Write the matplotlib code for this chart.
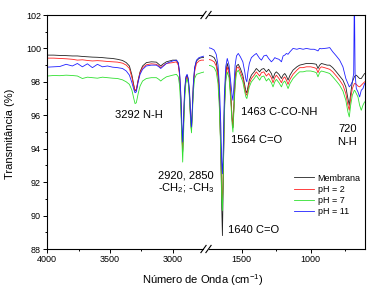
import matplotlib
matplotlib.use("Agg")
import matplotlib.pyplot as plt
from matplotlib.lines import Line2D

plt.rcParams['font.family'] = ['Liberation Sans', 'DejaVu Sans']
plt.rcParams['mathtext.fontset'] = 'custom'
plt.rcParams['mathtext.rm'] = 'Liberation Sans'
plt.rcParams['mathtext.it'] = 'Liberation Sans:italic'

# espectros FTIR, lado izquierdo (4000 - 2745 cm-1)
wn_left = [4000, 3950, 3900, 3850, 3800, 3760, 3720, 3680, 3640, 3600, 3560, 3520, 3480,
           3440, 3400, 3370, 3345, 3325, 3310, 3300, 3290, 3275, 3260, 3240, 3210, 3170,
           3130, 3110, 3095, 3080, 3050, 3000, 2970, 2955, 2945, 2935, 2927, 2920, 2913,
           2905, 2895, 2885, 2875, 2865, 2857, 2850, 2843, 2835, 2825, 2810, 2790, 2770, 2745]
membrana_left = [99.6, 99.6, 99.58, 99.57, 99.55, 99.55, 99.52, 99.5, 99.48, 99.47, 99.45, 99.42, 99.4,
                 99.35, 99.28, 99.15, 98.95, 98.4, 97.8, 97.45, 97.5, 98.1, 98.6, 98.95, 99.15, 99.2,
                 99.18, 99.05, 98.95, 99.05, 99.2, 99.3, 99.3, 99.1, 98.5, 97.0, 95.0, 93.8, 95.5,
                 97.3, 98.2, 98.4, 98.1, 97.2, 95.8, 95.1, 96.3, 97.8, 98.8, 99.25, 99.4, 99.45, 99.45]
ph2_left = [99.42, 99.42, 99.4, 99.38, 99.35, 99.3, 99.32, 99.28, 99.25, 99.27, 99.25, 99.22, 99.2,
            99.18, 99.12, 99.0, 98.8, 98.25, 97.75, 97.5, 97.55, 98.1, 98.55, 98.85, 99.02, 99.08,
            99.05, 98.95, 98.85, 98.95, 99.1, 99.15, 99.2, 99.0, 98.4, 96.9, 95.0, 93.9, 95.5,
            97.2, 98.1, 98.3, 98.0, 97.1, 95.8, 95.15, 96.3, 97.7, 98.6, 99.1, 99.25, 99.3, 99.3]
ph7_left = [98.35, 98.38, 98.37, 98.4, 98.38, 98.35, 98.2, 98.28, 98.25, 98.22, 98.28, 98.25, 98.22,
            98.2, 98.12, 98.0, 97.85, 97.5, 97.0, 96.7, 96.75, 97.3, 97.75, 98.05, 98.2, 98.25,
            98.25, 98.15, 98.05, 98.15, 98.3, 98.4, 98.45, 98.3, 97.8, 96.5, 94.6, 93.2, 94.9,
            96.8, 97.9, 98.2, 97.9, 96.9, 95.6, 94.95, 96.0, 97.4, 98.2, 98.45, 98.5, 98.55, 98.6]
ph11_left = [98.88, 98.9, 98.92, 99.05, 98.95, 99.1, 98.9, 99.08, 98.85, 99.05, 98.9, 98.95, 98.88,
             98.85, 98.8, 98.65, 98.4, 97.95, 97.55, 97.35, 97.4, 98.0, 98.45, 98.75, 98.95, 99.0,
             99.0, 98.9, 98.8, 98.9, 99.1, 99.25, 99.3, 99.15, 98.6, 97.3, 95.6, 94.4, 95.8,
             97.5, 98.3, 98.45, 98.2, 97.4, 96.0, 95.3, 96.4, 97.9, 98.85, 99.3, 99.45, 99.5, 99.55]

# lado derecho (1743 - 609 cm-1)
wn_right = [1743, 1720, 1700, 1685, 1672, 1662, 1652, 1645, 1640, 1634, 1626, 1616, 1605, 1592,
            1580, 1570, 1564, 1557, 1548, 1538, 1525, 1510, 1492, 1478, 1470, 1463, 1455, 1445,
            1430, 1410, 1394, 1370, 1357, 1340, 1321, 1305, 1285, 1273, 1260, 1249, 1230, 1212,
            1200, 1188, 1176, 1164, 1150, 1128, 1100, 1080, 1055, 1031, 1000, 975, 959, 947,
            935, 922, 900, 880, 862, 840, 814, 790, 766, 745, 730, 720, 710, 698, 688, 683,
            678, 669, 657, 645, 633, 621, 609]
membrana_right = [99.6, 99.55, 99.45, 99.2, 98.5, 97.0, 94.0, 90.5, 88.8, 92.0, 96.5, 98.5, 99.1, 98.7,
                  97.3, 95.8, 95.25, 96.5, 98.2, 98.95, 99.05, 98.8, 98.4, 97.8, 97.45, 97.35, 97.7, 98.1,
                  98.4, 98.6, 98.8, 98.6, 98.75, 98.8, 98.6, 98.75, 98.5, 98.2, 98.5, 98.6, 98.45, 98.2,
                  98.4, 98.5, 98.35, 98.1, 98.4, 98.7, 98.9, 99.0, 99.05, 99.1, 99.1, 99.08, 99.05, 98.8,
                  99.0, 99.1, 99.05, 99.0, 99.0, 98.85, 98.6, 98.35, 98.1, 97.7, 97.0, 96.6, 97.3, 98.0, 98.2, 98.3,
                  98.35, 98.4, 98.3, 98.2, 98.2, 98.35, 98.5]
ph2_right = [99.35, 99.3, 99.2, 98.95, 98.3, 96.8, 94.0, 91.5, 90.8, 92.8, 96.3, 98.3, 98.9, 98.5,
             97.2, 95.8, 95.3, 96.4, 98.0, 98.8, 98.9, 98.6, 98.2, 97.6, 97.3, 97.2, 97.5, 97.9,
             98.2, 98.4, 98.6, 98.35, 98.55, 98.6, 98.35, 98.5, 98.25, 97.95, 98.25, 98.4, 98.2, 97.95,
             98.2, 98.3, 98.1, 97.85, 98.15, 98.45, 98.7, 98.85, 98.85, 98.9, 98.9, 98.85, 98.8, 98.55,
             98.8, 98.9, 98.85, 98.8, 98.75, 98.6, 98.35, 98.1, 97.8, 97.3, 96.6, 96.3, 97.0, 97.6, 97.8, 97.9,
             97.9, 97.85, 97.75, 97.7, 97.8, 97.9, 98.0]
ph7_right = [99.0, 98.95, 98.85, 98.6, 97.9, 96.4, 93.8, 91.0, 90.3, 92.5, 96.0, 98.0, 98.6, 98.25,
             96.9, 95.5, 95.0, 96.2, 97.8, 98.55, 98.7, 98.4, 98.0, 97.4, 97.1, 97.0, 97.3, 97.7,
             98.0, 98.2, 98.4, 98.1, 98.3, 98.35, 98.05, 98.2, 97.95, 97.7, 98.0, 98.15, 97.95, 97.7,
             97.95, 98.05, 97.85, 97.6, 97.9, 98.2, 98.45, 98.6, 98.6, 98.65, 98.65, 98.6, 98.55, 98.3,
             98.55, 98.65, 98.6, 98.55, 98.5, 98.3, 98.05, 97.8, 97.45, 96.9, 96.2, 95.9, 96.6, 97.2, 97.4, 97.5,
             97.45, 97.3, 97.1, 96.6, 96.3, 96.6, 96.8]
ph11_right = [100.05, 100.0, 99.9, 99.65, 99.0, 97.8, 95.5, 93.2, 92.5, 94.0, 97.2, 98.9, 99.4, 99.0,
              98.0, 97.2, 96.9, 97.7, 99.0, 99.55, 99.7, 99.5, 99.2, 98.6, 98.15, 98.0, 98.6, 99.1,
              99.45, 99.6, 99.7, 99.4, 99.3, 99.55, 99.6, 99.4, 99.2, 99.3, 99.45, 99.4, 99.35, 99.2,
              99.55, 99.6, 99.7, 99.65, 99.8, 100.0, 99.95, 100.0, 99.95, 100.0, 99.95, 99.95, 99.9, 99.85,
              100.0, 99.98, 100.0, 100.02, 100.05, 99.8, 99.55, 99.3, 98.9, 98.2, 97.9, 97.7, 97.8, 98.0, 98.5, 103.5,
              98.5, 97.6, 97.4, 97.1, 97.5, 97.6, 97.9]

labels = ['Membrana', 'pH = 2', 'pH = 7', 'pH = 11']
colors = ['#222222', '#ff2020', '#30e030', '#2020ff']

W, H = 376, 292
fig = plt.figure(figsize=(W / 100, H / 100), dpi=100)

def fx(px):
    return px / W

def fy(py):
    return 1 - py / H

ax1 = fig.add_axes([fx(47.3), fy(249), fx(203.5) - fx(47.3), fy(15) - fy(249)])
ax2 = fig.add_axes([fx(208.5), fy(249), fx(365) - fx(208.5), fy(15) - fy(249)], sharey=ax1)
ax1.patch.set_alpha(0)
ax2.patch.set_alpha(0)

left_series = [membrana_left, ph2_left, ph7_left, ph11_left]
right_series = [membrana_right, ph2_right, ph7_right, ph11_right]
handles = []
for ys_l, ys_r, c, lab in zip(left_series, right_series, colors, labels):
    ax1.plot(wn_left, ys_l, color=c, lw=0.6)
    ax2.plot(wn_right, ys_r, color=c, lw=0.6)
    handles.append(Line2D([], [], color=c, lw=0.6, label=lab))

ax1.set_xlim(4000, 2754)
ax2.set_xlim(1741, 606)
ax1.set_ylim(88, 102)

ax1.set_xticks([4000, 3500, 3000])
ax1.set_xticks([3750, 3250], minor=True)
ax2.set_xticks([1500, 1000])
ax2.set_xticks([1250, 750], minor=True)
ax1.set_yticks(range(88, 103, 2))
ax1.set_yticks(range(89, 102, 2), minor=True)

for ax in (ax1, ax2):
    ax.tick_params(which='major', direction='out', length=3, width=0.7, labelsize=6.5, pad=1.5)
    ax.tick_params(which='minor', direction='out', length=1.6, width=0.7)
    for s in ax.spines.values():
        s.set_linewidth(0.8)
ax1.tick_params(axis='x', top=False)
ax1.tick_params(axis='y', right=False)
ax1.spines['right'].set_visible(False)
ax2.spines['left'].set_visible(False)
ax2.tick_params(axis='y', left=False, labelleft=False, which='both')

# marcas de corte //
for cx in (203.5, 208.5):
    for cy in (15, 249):
        fig.add_artist(Line2D([fx(cx - 2.6), fx(cx + 2.6)], [fy(cy + 3.6), fy(cy - 3.6)],
                              color='black', lw=0.8))

fs = 8
ax1.text(3270, 96.0, '3292 N-H', fontsize=fs, ha='center', va='center')
fig.text(fx(186), fy(183), '2920, 2850\n-CH$_2$; -CH$_3$', fontsize=fs, ha='center', va='center',
         linespacing=1.1)
ax2.text(1601, 89.13, '1640 C=O', fontsize=fs, ha='left', va='center')
ax2.text(1575, 94.52, '1564 C=O', fontsize=fs, ha='left', va='center')
ax2.text(1502, 96.21, '1463 C-CO-NH', fontsize=fs, ha='left', va='center')
ax2.text(735, 94.79, '720\nN-H', fontsize=fs, ha='center', va='center', linespacing=1.3)

fig.text(fx(10), fy(134), 'Transmitância (%)', rotation=90, fontsize=8, ha='center', va='center')
fig.text(fx(203), fy(280), 'Número de Onda (cm$^{-1}$)', fontsize=8, ha='center', va='center')

fig.legend(handles=handles, loc='center', bbox_to_anchor=(fx(327.5), fy(195)), frameon=False,
           fontsize=6.5, handlelength=2.2, handletextpad=0.4, labelspacing=0.25, borderpad=0)

fig.savefig('out.png', dpi=100)
